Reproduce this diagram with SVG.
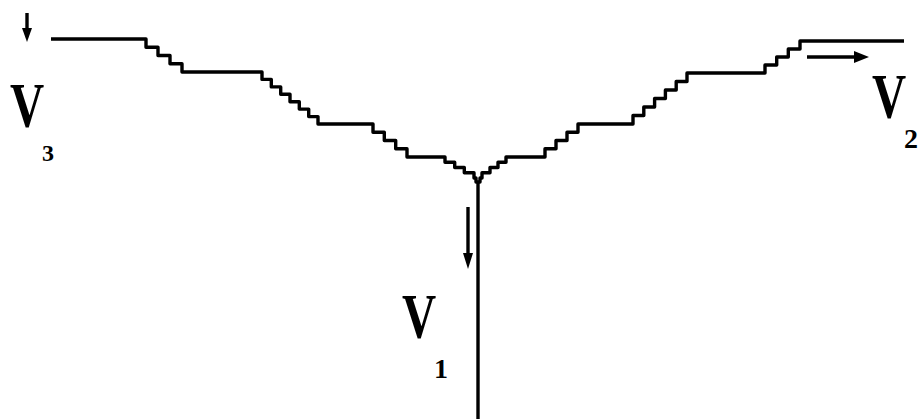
<svg xmlns="http://www.w3.org/2000/svg" width="923" height="419" viewBox="0 0 923 419">
<style>
.ln{fill:none;stroke:#000;stroke-width:3.4;stroke-linejoin:round;stroke-linecap:butt}
.ah{fill:#000;stroke:none}
.v{font-family:"Liberation Serif","DejaVu Serif",serif;font-weight:bold;font-size:64px;fill:#000}
.s{font-family:"Liberation Serif","DejaVu Serif",serif;font-weight:bold;fill:#000}
</style>
<rect width="923" height="419" fill="#fff"/>
<g id="connectors">
<path id="channel" class="ln" d="M51,39 H146 V47.25 H158 V55.5 H170 V63.75 H182 V72 H262 V79.4 H271.3 V86.9 H280.7 V94.3 H290 V101.7 H299.3 V109.1 H308.7 V116.6 H318 V124 H373 V132.3 H384.3 V140.5 H395.7 V148.8 H407 V157 H445 V162.3 H454.7 V167.5 H464.3 V172.8 H474 V178 H476 V182 H480 V178 H482 V172.8 H490 V167.5 H498 V162.3 H506 V157 H545 V148.8 H556 V140.5 H567 V132.3 H578 V124 H633 V115.5 H643.8 V107 H654.6 V98.5 H665.4 V90 H676.2 V81.5 H687 V73 H765 V65 H776.7 V57 H788.3 V49 H800 V41 H904"/>
<path id="stem" class="ln" d="M478,182 V419"/>
</g>
<g id="arrow-v3">
<path class="ln" d="M27,13 V30"/>
<polygon class="ah" points="22,28 32,28 27,42"/>
</g>
<g id="arrow-v1">
<path class="ln" d="M468,207 V255"/>
<polygon class="ah" points="463,253 473,253 468,269"/>
</g>
<g id="arrow-v2">
<path class="ln" d="M807,57 H856"/>
<polygon class="ah" points="854,51 854,63 869,57"/>
</g>
<g id="label-v3">
<text class="v" transform="translate(10,127) scale(0.74,1)">V</text>
<text class="s" x="42" y="161" font-size="24">3</text>
</g>
<g id="label-v2">
<text class="v" transform="translate(872,118) scale(0.74,1)">V</text>
<text class="s" x="904" y="148" font-size="28">2</text>
</g>
<g id="label-v1">
<text class="v" transform="translate(402,338) scale(0.74,1)">V</text>
<text class="s" x="434" y="378" font-size="28">1</text>
</g>
</svg>
